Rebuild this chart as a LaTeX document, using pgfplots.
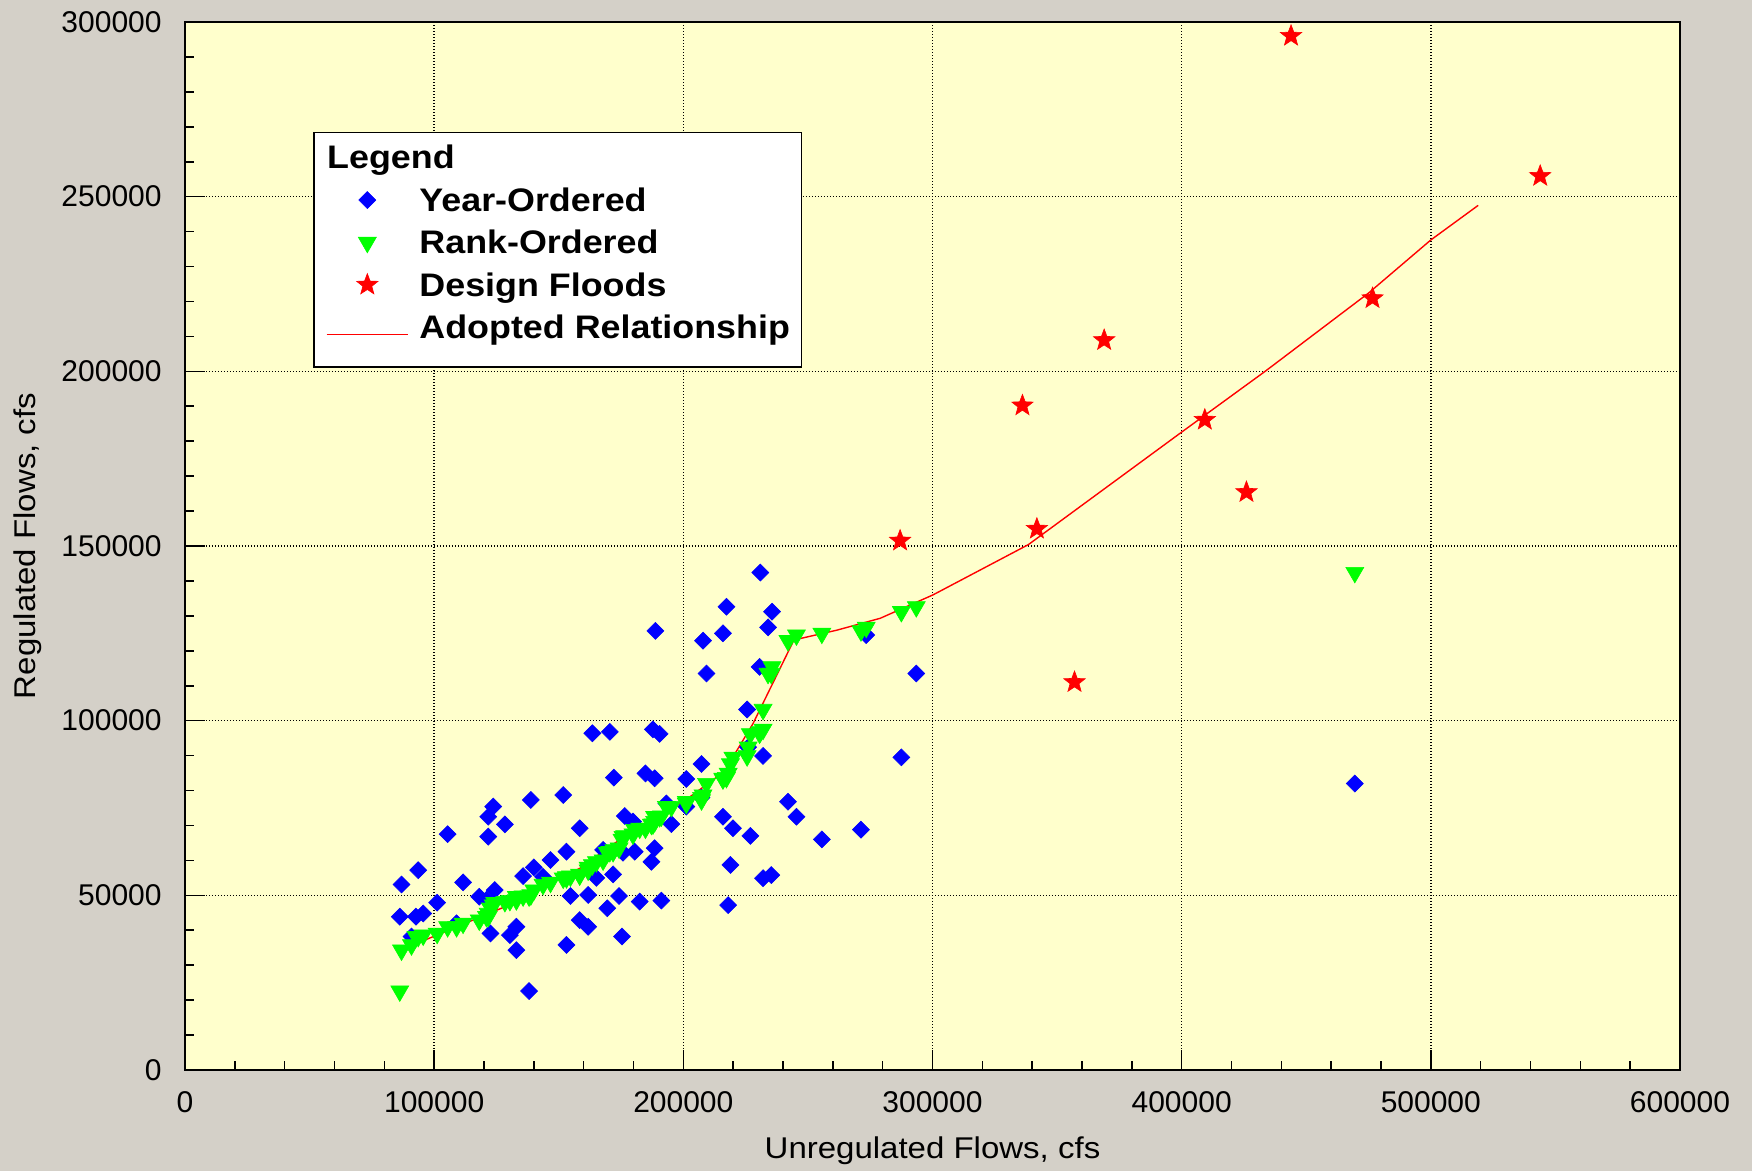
\documentclass[border=0pt]{standalone}
\usepackage{fontspec}
\setmainfont{Liberation Sans}
\newfontfamily\widesans[FakeStretch=1.1]{Liberation Sans}
\usepackage{pgfplots}
\pgfplotsset{compat=1.18}
\definecolor{bggray}{HTML}{D4D0C8}
\definecolor{plotyellow}{HTML}{FFFFCC}
\definecolor{mkblue}{HTML}{0000FF}
\definecolor{mkgreen}{HTML}{00FF00}
\definecolor{mkred}{HTML}{FF0000}
\pgfdeclareplotmark{fstar}{%
  \pgfpathmoveto{\pgfpointpolar{90}{\pgfplotmarksize}}%
  \pgfpathlineto{\pgfpointpolar{126}{0.42\pgfplotmarksize}}%
  \pgfpathlineto{\pgfpointpolar{162}{\pgfplotmarksize}}%
  \pgfpathlineto{\pgfpointpolar{198}{0.42\pgfplotmarksize}}%
  \pgfpathlineto{\pgfpointpolar{234}{\pgfplotmarksize}}%
  \pgfpathlineto{\pgfpointpolar{270}{0.42\pgfplotmarksize}}%
  \pgfpathlineto{\pgfpointpolar{306}{\pgfplotmarksize}}%
  \pgfpathlineto{\pgfpointpolar{342}{0.42\pgfplotmarksize}}%
  \pgfpathlineto{\pgfpointpolar{18}{\pgfplotmarksize}}%
  \pgfpathlineto{\pgfpointpolar{54}{0.42\pgfplotmarksize}}%
  \pgfpathclose
  \pgfusepathqfillstroke
}
\pgfplotsset{
  markleg/.style={legend image code/.code={\path[draw=none, fill=none] (0pt,-1pt) rectangle (40.8pt,1pt);
    \draw[##1, draw=none, fill=none, mark repeat=2, mark phase=2] plot coordinates {(0pt,0pt) (20.4pt,0pt) (40.8pt,0pt)};}},
  lineleg/.style={legend image code/.code={\draw[##1, fill=none] (0pt,0pt) -- (40.8pt,0pt);}},
}

\pgfplotstableread{
x y
86900 53100
86200 43900
92700 43900
95600 44800
93600 57200
101200 47900
105400 67500
111600 53700
118100 49600
121700 72500
123700 75400
121700 66800
128400 70300
124300 51500
122600 39100
130400 38600
133000 41000
133000 34300
138100 22600
138800 77300
135700 55500
140000 58000
146700 60100
151800 78700
153100 62500
153100 35800
154700 49800
158400 69200
158400 42900
161800 41000
161800 50100
165100 55000
169500 46300
171800 56000
163500 96400
170500 96800
172100 83700
176500 72700
175800 62200
180500 62500
174200 49800
175400 38200
182500 48200
188500 63500
187200 59600
191200 48500
187800 97500
190500 96200
184800 84900
188500 83500
195200 70400
201200 83300
207300 87600
215900 72500
219900 69200
226900 67000
218900 58700
218000 47200
232000 54900
235300 55800
225600 103200
232000 89900
242000 76800
245400 72500
255600 66000
271300 68800
287500 89500
293500 113500
273400 124500
230900 142400
217300 132600
235600 131200
234000 126700
188800 125700
207900 122900
215900 125000
209300 113500
230600 115400
469500 82000
226000 92400
90900 38200
109000 42000
121000 48700
143700 55300
167800 63000
179800 71100
193200 76300
201200 75400
207300 78000
}\yearordered

\pgfplotstableread{
x y
86200 22600
86900 34300
90900 35800
92700 38200
93600 38200
95600 38600
101200 39100
105400 41000
109000 41000
111600 42000
118100 42900
121000 43900
121700 43900
121700 44800
122600 46300
123700 47200
124300 47900
128400 48200
130400 48500
133000 48700
133000 49600
135700 49800
138100 49800
138800 50100
140000 51500
143700 53100
146700 53700
151800 54900
153100 55000
153100 55300
154700 55500
158400 55800
158400 56000
161800 57200
161800 58000
163500 58700
165100 59600
167800 60100
169500 62200
170500 62500
171800 62500
172100 63000
174200 63500
175400 66000
175800 66800
176500 67000
179800 67500
180500 68800
182500 69200
184800 69200
187200 70300
187800 70400
188500 71100
188500 72500
188800 72500
190500 72500
191200 72700
193200 75400
195200 75400
201200 76300
201200 76800
207300 77300
207300 78000
207900 78700
209300 82000
215900 83300
215900 83500
217300 83700
218000 84900
218900 87600
219900 89500
225600 89900
226000 92400
226900 96200
230600 96400
230900 96800
232000 97500
232000 103200
234000 113500
235300 113500
235600 115400
242000 122900
245400 124500
255600 125000
271300 125700
273400 126700
287500 131200
293500 132600
469500 142400
}\rankordered

\pgfplotstableread{
x y
287000 151500
336100 190200
341900 154900
357000 111000
368900 208900
409300 186100
426000 165400
443900 296000
476600 220900
543900 255900
}\designfloods

\pgfplotstableread{
x y
87000 34500
99700 38200
131700 47700
142400 52000
158400 57700
171800 64600
182500 69600
200000 76800
216400 85400
228000 99200
244400 123100
261600 125900
279000 129300
300200 136000
338500 150400
400000 182600
433700 200100
475000 222400
500000 237600
519000 247500
}\adopted

\begin{document}
\begin{tikzpicture}
\fill[bggray] (-92.5pt,-50.5pt) rectangle (783.5pt,535pt);
\begin{axis}[
  at={(0pt,0pt)}, anchor=south west,
  scale only axis, width=747.5pt, height=524pt,
  xmin=0, xmax=600000, ymin=0, ymax=300000,
  scaled ticks=false,
  xtick={0,100000,200000,300000,400000,500000,600000},
  ytick={0,50000,100000,150000,200000,250000,300000},
  xticklabels={0,100000,200000,300000,400000,500000,600000},
  yticklabels={0,50000,100000,150000,200000,250000,300000},
  minor x tick num=4, minor y tick num=4,
  tick align=inside, tick pos=left,
  major tick length=10pt, minor tick length=4.5pt,
  every tick/.style={black, line width=0.8pt},
  axis line style={black, line width=0.9pt},
  grid=major,
  major grid style={black, line width=0.8pt, dash pattern=on 0.7pt off 0.8pt},
  axis background/.style={fill=plotyellow},
  ticklabel style={font=\fontsize{15}{18}\selectfont},
  xticklabel style={anchor=center, yshift=-16pt},
  yticklabel style={anchor=east, inner sep=0pt, xshift=-11.5pt},
  xlabel={Unregulated Flows, cfs},
  ylabel={Regulated Flows, cfs},
  xlabel style={at={(axis description cs:0.5,-0.0843)}, anchor=base, font=\widesans\fontsize{15}{18}\selectfont},
  ylabel style={at={(axis description cs:-0.1003,0.5)}, anchor=base, font=\widesans\fontsize{15}{18}\selectfont},
  legend style={at={(axis description cs:0.0859,0.8952)}, anchor=north west,
    draw=black, line width=0.8pt, fill=white,
    font=\widesans\bfseries\fontsize{16.3}{19}\selectfont,
    inner xsep=5.8pt, inner ysep=1.9pt, row sep=0pt, column sep=5.3pt,
    nodes={inner xsep=0pt, inner ysep=0pt, text height=16.2pt, text depth=5pt}},
  legend cell align=left,
  clip=false,
]
\addlegendimage{empty legend}
\addlegendentry{\hspace*{-46.1pt}Legend}

\addplot[only marks, mark=square*, mark size=3pt,
  mark options={rotate=45, fill=mkblue, draw=mkblue, line width=0.3pt}, markleg]
  table[x=x, y=y] {\yearordered};
\addlegendentry{Year-Ordered}

\addplot[only marks, mark=triangle*, mark size=5.2pt,
  mark options={rotate=180, fill=mkgreen, draw=mkgreen, line width=0.3pt}, markleg]
  table[x=x, y=y] {\rankordered};
\addlegendentry{Rank-Ordered}

\addplot[only marks, mark=fstar, mark size=5.6pt,
  mark options={fill=mkred, draw=mkred, line width=0.3pt}, markleg]
  table[x=x, y=y] {\designfloods};
\addlegendentry{Design Floods}

\addplot[mkred, line width=0.7pt, no marks, lineleg]
  table[x=x, y=y] {\adopted};
\addlegendentry[text depth=12.5pt]{Adopted Relationship}
\end{axis}
\pgfresetboundingbox
\path (-92.5pt,-50.5pt) rectangle (783.5pt,535pt);
\end{tikzpicture}
\end{document}
